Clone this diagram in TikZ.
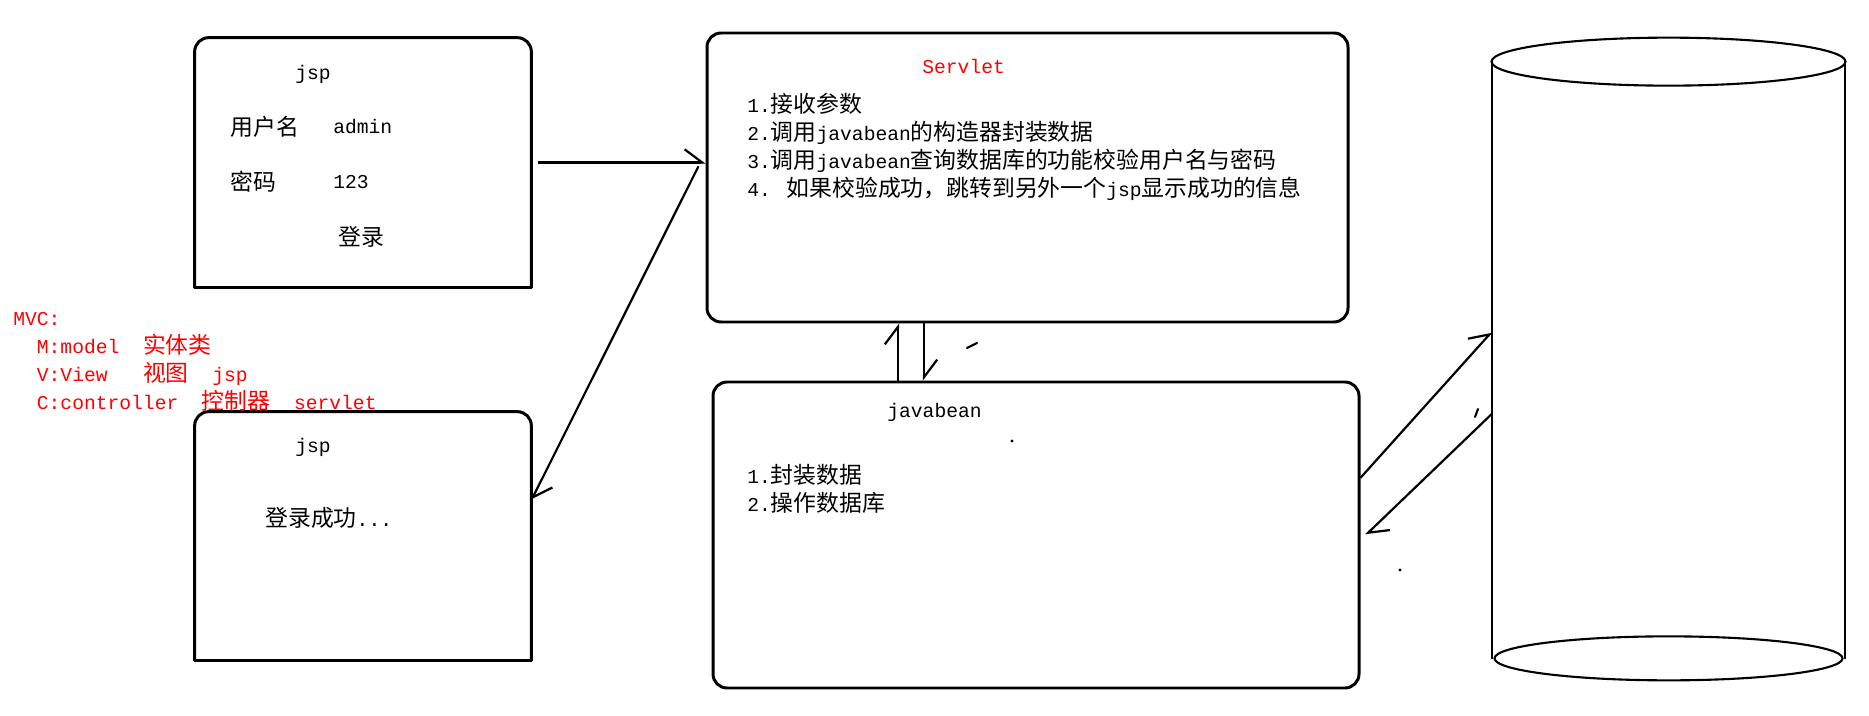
\documentclass[tikz,border=0pt]{standalone}
\usepackage{fontspec}
\setmainfont{Liberation Mono}[Scale=0.86]
\newfontfamily\zhfont{Noto Sans CJK SC}
\newcommand\zh[1]{{\zhfont #1}}
\usetikzlibrary{arrows.meta,fit}
\definecolor{penred}{RGB}{255,0,0}
\tikzset{
  pane/.style={inner sep=0pt},
  frame/.style={line width=1.7pt,line cap=round},
  box/.style={draw,line width=1.7pt,rounded corners=8pt,inner sep=0pt},
  txt/.style={inner sep=0pt,anchor=west,align=left},
  hot/.style={text=penred},
  arr/.style={line width=1.25pt,-{Straight Barb[harpoon,length=10pt,width=15pt]}},
  pen/.style={line width=1.2pt,line cap=round},
}

\begin{document}
\begin{tikzpicture}[x=0.02cm,y=-0.02cm,font=\fontsize{13}{15.9}\selectfont]
  \useasboundingbox (0,0) rectangle (1869,716);
  % boxes
  \node[pane,fit={(195,38)(531,287)}] (login) {};
  \node[pane,fit={(195,412)(531,660)}] (done) {};
  \node[box,fit={(707,33)(1348,322)}] (serv) {};
  \node[box,fit={(713,382)(1359,688)}] (bean) {};
  \node[pane,fit={(1492,62)(1845,658)}] (db) {};
  \draw[frame,rounded corners=8pt] (login.south west) -- (login.north west) -- (login.north east) -- (login.south east);
  \draw[frame] (login.south west) -- (login.south east);
  \draw[frame,rounded corners=8pt] (done.south west) -- (done.north west) -- (done.north east) -- (done.south east);
  \draw[frame] (done.south west) -- (done.south east);
  % database
  \draw[pen] (db.north) ellipse [x radius=177,y radius=24];
  \draw[pen] (db.south) ellipse [x radius=174,y radius=22];
  \draw[pen] (db.north west) -- (db.south west);
  \draw[pen] (db.north east) -- (db.south east);

  % texts
  \node[txt] (lhead) at (295,74) {jsp};
  \node[txt] (uname) at (230,127) {\zh{用户名}};
  \node[txt] (uval) at (333,127) {admin};
  \node[txt] (pword) at (230,182) {\zh{密码}};
  \node[txt] (pval) at (333,182) {123};
  \node[txt] (submit) at (338,237) {\zh{登录}};
  \node[txt] (dhead) at (295,447) {jsp};
  \node[txt] (dmsg) at (265,518) {\zh{登录成功}...};
  \node[txt,hot] (shead) at (922,66) {Servlet};
  \node[txt] (ssteps) at (747,146.5) {1.\zh{接收参数}\\
    2.\zh{调用}javabean\zh{的构造器封装数据}\\
    3.\zh{调用}javabean\zh{查询数据库的功能校验用户名与密码}\\
    4. \zh{如果校验成功，跳转到另外一个}jsp\zh{显示成功的信息}};
  \node[txt] (bhead) at (887,412) {javabean};
  \node[txt] (bsteps) at (747,488.5) {1.\zh{封装数据}\\2.\zh{操作数据库}};
  \node[txt,hot] (mvc) at (13,361.5) {MVC:\\
    \phantom{MM}M:model\ \ \zh{实体类}\\
    \phantom{MM}V:View\ \ \ \zh{视图}\ \ jsp\\
    \phantom{MM}C:controller\ \ \zh{控制器}\ \ servlet};

  % arrows
  \draw[arr,shorten <=4pt] (login.east) -- (login.east -| serv.west);
  \draw[arr] ([xshift=-4pt]serv.178) -- (done.12);
  \draw[arr] (898,0 |- bean.north) -- (898,0 |- serv.south);
  \draw[arr] (924,0 |- serv.south) -- (924,0 |- bean.north);
  \draw[arr] (bean.10) -- (db.171);
  \draw[arr] (db.197) -- ([xshift=3pt]bean.east);

  % stray pen marks
  \draw[pen] (967,348) -- (977,343);
  \draw[pen] (1475,417) -- (1478,409);
  \fill (1012,441) circle [radius=1.6];
  \fill (1400,570) circle [radius=1.6];
\end{tikzpicture}
\end{document}
